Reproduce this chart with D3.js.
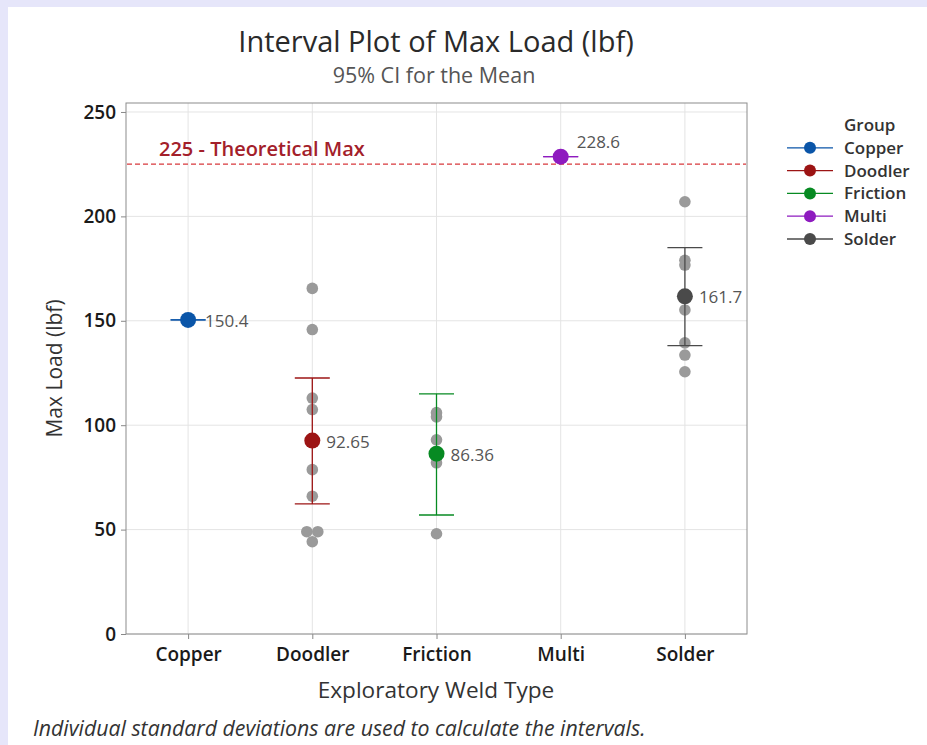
<!DOCTYPE html>
<html>
<head>
	<title>Interval Plot of Max Load</title>
	<script src="https://cdn.jsdelivr.net/npm/d3@7/dist/d3.min.js"></script>
	<style>
		body { margin: 0; background: #e6e6fa; }
		svg { display: block; font-family: "Open Sans", "Noto Sans", sans-serif; }
	</style>
</head>
<body>
	<svg id="chart" width="927" height="745"></svg>
	<script>
		// groups and summary values
		var groups = ['Copper', 'Doodler', 'Friction', 'Multi', 'Solder'];
		var means = [150.4, 92.65, 86.36, 228.6, 161.7];
		var ciLow = [150.4, 62.3, 57.0, 228.6, 138.1];
		var ciHigh = [150.4, 122.6, 115.0, 228.6, 185.0];
		var colors = ['#0a55a8', '#9c1414', '#078a22', '#8e1bbf', '#4a4a4a'];

		// individual observations (gray dots)
		var obs = {
			Copper: [150.4],
			Doodler: [165.5, 145.8, 113.0, 107.5, 92.6, 78.7, 66.0, 49.0, 49.0, 44.2],
			Friction: [106.0, 104.0, 93.0, 86.0, 82.0, 48.0],
			Multi: [228.6],
			Solder: [207.0, 179.0, 176.7, 161.7, 155.2, 139.4, 133.6, 125.6]
		};

		var yTicks = [0, 50, 100, 150, 200, 250];
		var refValue = 225;
		var refLabel = '225 - Theoretical Max';

		var svg = d3.select('#chart');

		// white panel
		svg.append('rect')
			.attr('x', 8).attr('y', 7)
			.attr('width', 927).attr('height', 745)
			.attr('fill', 'white');

		var mLeft = 126, mRight = 747, mTop = 103, mBottom = 634;

		var x = d3.scalePoint()
			.domain(groups)
			.range([mLeft, mRight])
			.padding(0.5);

		var y = d3.scaleLinear()
			.domain([0, 254.3])
			.range([mBottom, mTop]);

		// gridlines
		svg.append('g')
			.selectAll('line')
			.data(yTicks)
			.enter().append('line')
			.attr('x1', mLeft).attr('x2', mRight)
			.attr('y1', d => y(d)).attr('y2', d => y(d))
			.attr('stroke', '#e4e4e4');

		svg.append('g')
			.selectAll('line')
			.data(groups)
			.enter().append('line')
			.attr('x1', d => x(d)).attr('x2', d => x(d))
			.attr('y1', mTop).attr('y2', mBottom)
			.attr('stroke', '#e4e4e4');

		// axes
		var yAxis = svg.append('g')
			.attr('transform', 'translate(' + mLeft + ',0)')
			.call(d3.axisLeft(y).tickValues(yTicks).tickSize(5).tickPadding(5));

		var xAxis = svg.append('g')
			.attr('transform', 'translate(0,' + mBottom + ')')
			.call(d3.axisBottom(x).tickSize(5).tickPadding(9));

		[yAxis, xAxis].forEach(function (a) {
			a.attr('font-family', null).attr('font-size', null);
			a.select('.domain').remove();
			a.selectAll('line').attr('stroke', '#888');
			a.selectAll('text')
				.attr('fill', '#1a1a1a')
				.style('font-size', '19px')
				.style('font-weight', '600');
		});

		// frame
		svg.append('rect')
			.attr('x', mLeft).attr('y', mTop)
			.attr('width', mRight - mLeft).attr('height', mBottom - mTop)
			.attr('fill', 'none')
			.attr('stroke', '#8c8c8c');

		// reference line
		svg.append('line')
			.attr('x1', mLeft + 1).attr('x2', mRight - 1)
			.attr('y1', y(refValue)).attr('y2', y(refValue))
			.attr('stroke', '#d8393c')
			.attr('stroke-width', 1.3)
			.attr('stroke-dasharray', '5,3');

		svg.append('text')
			.attr('x', 159).attr('y', y(refValue) - 8)
			.attr('fill', '#a3202a')
			.style('font-size', '20px')
			.style('font-weight', '600')
			.text(refLabel);

		// individual points, dodging exact duplicates
		var dots = [];
		groups.forEach(function (g) {
			var placed = [];
			obs[g].forEach(function (v) {
				var same = placed.filter(p => Math.abs(p - v) < 0.5).length;
				placed.push(v);
				dots.push({ g: g, v: v, k: same });
			});
		});
		dots.forEach(function (d) {
			var n = dots.filter(e => e.g === d.g && Math.abs(e.v - d.v) < 0.5).length;
			d.dx = n > 1 ? (d.k - (n - 1) / 2) * 11 : 0;
		});

		svg.append('g')
			.selectAll('circle')
			.data(dots)
			.enter().append('circle')
			.attr('cx', d => x(d.g) + d.dx)
			.attr('cy', d => y(d.v))
			.attr('r', 5.8)
			.attr('fill', '#9a9a9a');

		// intervals
		var rows = groups.map((g, i) => ({ g: g, m: means[i], lo: ciLow[i], hi: ciHigh[i], c: colors[i] }));

		var iv = svg.append('g')
			.selectAll('g')
			.data(rows)
			.enter().append('g');

		iv.append('line')
			.attr('x1', d => x(d.g)).attr('x2', d => x(d.g))
			.attr('y1', d => y(d.lo)).attr('y2', d => y(d.hi))
			.attr('stroke', d => d.c).attr('stroke-width', 1.3);

		['lo', 'hi'].forEach(function (k) {
			iv.append('line')
				.attr('x1', d => x(d.g) - 17.5).attr('x2', d => x(d.g) + 17.5)
				.attr('y1', d => y(d[k])).attr('y2', d => y(d[k]))
				.attr('stroke', d => d.c).attr('stroke-width', 1.3);
		});

		iv.append('circle')
			.attr('cx', d => x(d.g))
			.attr('cy', d => y(d.m))
			.attr('r', 8)
			.attr('fill', d => d.c);

		iv.append('text')
			.attr('x', d => x(d.g) + (d.lo === d.hi ? (d.m > 200 ? 16 : 17) : 14))
			.attr('y', d => y(d.m) + (d.m > 200 ? -9 : 7))
			.attr('fill', '#555')
			.style('font-size', '17px')
			.text(d => d.m);

		// titles
		svg.append('text')
			.attr('x', 436).attr('y', 52)
			.attr('text-anchor', 'middle')
			.attr('fill', '#2a2a2a')
			.style('font-size', '29px')
			.style('font-weight', '500')
			.text('Interval Plot of Max Load (lbf)');

		svg.append('text')
			.attr('x', 434).attr('y', 83)
			.attr('text-anchor', 'middle')
			.attr('fill', '#555')
			.style('font-size', '21.5px')
			.text('95% CI for the Mean');

		svg.append('text')
			.attr('transform', 'translate(62,' + ((mTop + mBottom) / 2) + ') rotate(-90)')
			.attr('text-anchor', 'middle')
			.attr('fill', '#333')
			.style('font-size', '21px')
			.style('font-weight', '500')
			.text('Max Load (lbf)');

		svg.append('text')
			.attr('x', 436).attr('y', 698)
			.attr('text-anchor', 'middle')
			.attr('fill', '#333')
			.style('font-size', '22.6px')
			.style('font-weight', '500')
			.text('Exploratory Weld Type');

		svg.append('text')
			.attr('x', 33).attr('y', 736)
			.attr('fill', '#333')
			.style('font-size', '21.3px')
			.style('font-style', 'italic')
			.text('Individual standard deviations are used to calculate the intervals.');

		// legend
		var lg = svg.append('g').attr('transform', 'translate(787,125)');
		lg.append('text')
			.attr('x', 57).attr('y', 6)
			.attr('fill', '#333')
			.style('font-size', '17px')
			.style('font-weight', '600')
			.text('Group');

		var item = lg.selectAll('g.item')
			.data(rows)
			.enter().append('g')
			.attr('transform', (d, i) => 'translate(0,' + (22.8 * (i + 1)) + ')');

		item.append('line')
			.attr('x1', 0).attr('x2', 46)
			.attr('stroke', d => d.c).attr('stroke-width', 1.3);
		item.append('circle')
			.attr('cx', 23).attr('r', 6)
			.attr('fill', d => d.c);
		item.append('text')
			.attr('x', 57).attr('y', 6)
			.attr('fill', '#333')
			.style('font-size', '17px')
			.style('font-weight', '600')
			.text(d => d.g);
	</script>
</body>
</html>
